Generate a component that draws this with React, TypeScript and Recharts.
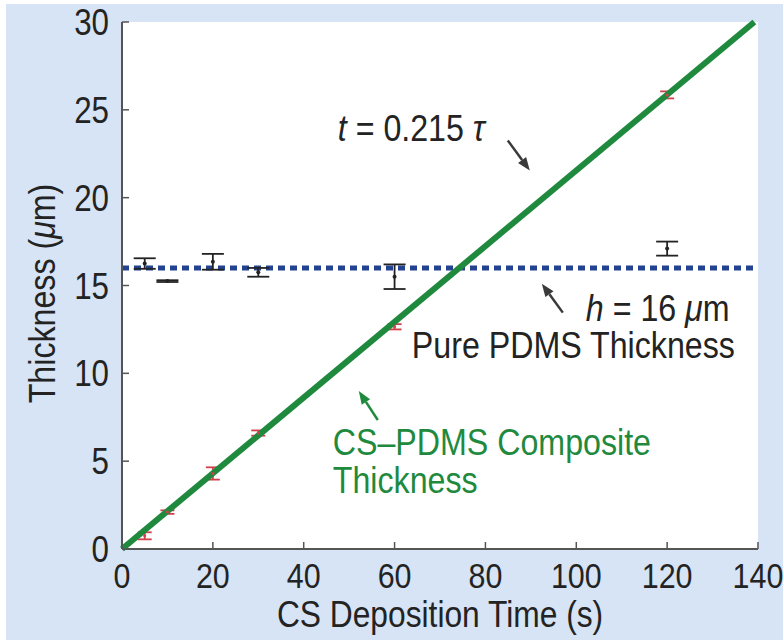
import React from "react";
import {
  ComposedChart,
  Scatter,
  ErrorBar,
  XAxis,
  YAxis,
  ReferenceLine,
  ReferenceDot,
  CartesianGrid,
} from "recharts";

// deposition times (s) where thickness was measured
const times = [5, 10, 20, 30, 60, 120];
// CS-PDMS composite thickness (um) and its error
const compositeThickness = [0.75, 2.1, 4.3, 6.6, 12.65, 25.85];
const compositeErr = [0.2, 0.1, 0.35, 0.15, 0.15, 0.2];
// pure PDMS thickness (um) and its error
const pdmsThickness = [16.25, 15.25, 16.35, 15.75, 15.5, 17.1];
const pdmsErr = [0.3, 0.05, 0.45, 0.25, 0.7, 0.4];
// fitted line t = 0.215 tau, end points
const fitTimes = [0, 139.2];
const fitThickness = [0, 30];
const pureLevel = 16;

const xTicks = [0, 20, 40, 60, 80, 100, 120, 140];
const yTicks = [0, 5, 10, 15, 20, 25, 30];

const compositeData = times.map((x, i) => ({ x, y: compositeThickness[i], err: compositeErr[i] }));
const pdmsData = times.map((x, i) => ({ x, y: pdmsThickness[i], err: pdmsErr[i] }));
const fitData = fitTimes.map((x, i) => ({ x, y: fitThickness[i] }));

const INK = "#232323";
const AXIS = "#555";
const GREEN = "#1f8a3e";
const NAVY = "#23428f";
const RED = "#d2404c";
const BG = "#d6e4f5";
const FONT = "'Liberation Sans', Arial, sans-serif";
const SX = 0.87;

function Txt({ x, y, size = 37, fill = INK, anchor = "start", rotate = false, children }: any) {
  const tf = rotate
    ? `translate(${x},${y}) rotate(-90) scale(${SX},1)`
    : `translate(${x},${y}) scale(${SX},1)`;
  return (
    <text transform={tf} fontSize={size} fill={fill} textAnchor={anchor} fontFamily={FONT}>
      {children}
    </text>
  );
}

function Arrow({ x1, y1, x2, y2, color = "#3a3a3a" }: any) {
  const a = Math.atan2(y2 - y1, x2 - x1);
  const len = 13;
  const w = 5;
  const bx = x2 - len * Math.cos(a);
  const by = y2 - len * Math.sin(a);
  const px = -Math.sin(a) * w;
  const py = Math.cos(a) * w;
  return (
    <g>
      <line x1={x1} y1={y1} x2={bx} y2={by} stroke={color} strokeWidth={2.5} />
      <polygon points={`${x2},${y2} ${bx + px},${by + py} ${bx - px},${by - py}`} fill={color} />
    </g>
  );
}

const BottomTick = ({ x, y, payload }: any) => (
  <g>
    <line x1={x} x2={x} y1={y} y2={y - 7} stroke={AXIS} strokeWidth={1.5} />
    <Txt x={x} y={y + 39} size={35} anchor="middle">{payload.value}</Txt>
  </g>
);

const TopTick = ({ x, y }: any) => (
  <line x1={x} x2={x} y1={y} y2={y + 7} stroke={AXIS} strokeWidth={1.5} />
);

const LeftTick = ({ x, y, payload }: any) => (
  <g>
    <line x1={x} x2={x + 7} y1={y} y2={y} stroke={AXIS} strokeWidth={1.5} />
    <Txt x={x - 13} y={y + 13} size={36} anchor="end">{payload.value}</Txt>
  </g>
);

const RightTick = ({ x, y }: any) => (
  <line x1={x} x2={x - 7} y1={y} y2={y} stroke={AXIS} strokeWidth={1.5} />
);

const Dot = (color: string, r: number) => (p: any) =>
  <circle cx={p.cx} cy={p.cy} r={r} fill={color} />;

export default function App() {
  return (
    <div style={{ position: "absolute", left: 0, top: 0, width: 783, height: 640, background: "#fff" }}>
      <div style={{ position: "absolute", left: 6, top: 4, right: 0, bottom: 0, background: BG }} />
      <div style={{ position: "absolute", left: 0, top: 0 }}>
        <ComposedChart width={783} height={640} margin={{ top: 22, right: 25, left: 0, bottom: 0 }}>
          <CartesianGrid fill="#fff" horizontal={false} vertical={false} />
          <XAxis
            dataKey="x"
            type="number"
            domain={[0, 140]}
            ticks={xTicks}
            interval={0}
            height={91}
            tickSize={0}
            tickMargin={0}
            tickLine={false}
            axisLine={{ stroke: AXIS, strokeWidth: 2 }}
            tick={<BottomTick />}
            label={{
              content: ({ viewBox }: any) => (
                <Txt x={viewBox.x + viewBox.width / 2} y={627} size={36.5} anchor="middle">CS Deposition Time (s)</Txt>
              ),
            }}
          />
          <XAxis
            xAxisId="top"
            orientation="top"
            dataKey="x"
            type="number"
            domain={[0, 140]}
            ticks={xTicks}
            interval={0}
            height={0}
            tickSize={0}
            tickMargin={0}
            tickLine={false}
            axisLine={{ stroke: AXIS, strokeWidth: 2 }}
            tick={<TopTick />}
          />
          <YAxis
            dataKey="y"
            type="number"
            domain={[0, 30]}
            ticks={yTicks}
            interval={0}
            width={122}
            tickSize={0}
            tickMargin={0}
            tickLine={false}
            axisLine={{ stroke: AXIS, strokeWidth: 2 }}
            tick={<LeftTick />}
            label={{
              content: ({ viewBox }: any) => (
                <Txt x={55} y={viewBox.y + viewBox.height / 2 + 8} anchor="middle" rotate>
                  Thickness (<tspan fontStyle="italic">μ</tspan>m)
                </Txt>
              ),
            }}
          />
          <YAxis
            yAxisId="right"
            orientation="right"
            dataKey="y"
            type="number"
            domain={[0, 30]}
            ticks={yTicks}
            interval={0}
            width={0}
            tickSize={0}
            tickMargin={0}
            tickLine={false}
            axisLine={{ stroke: AXIS, strokeWidth: 2 }}
            tick={<RightTick />}
          />

          <ReferenceLine y={pureLevel} stroke={NAVY} strokeWidth={5} strokeDasharray="7 5" />

          <Scatter
            data={fitData}
            isAnimationActive={false}
            line={{ stroke: GREEN, strokeWidth: 6 }}
            lineType="joint"
            shape={() => <g />}
          />

          <Scatter data={compositeData} isAnimationActive={false} shape={Dot(RED, 1.5)}>
            <ErrorBar dataKey="err" direction="y" width={7} stroke={RED} strokeWidth={1.8} />
          </Scatter>

          <Scatter data={pdmsData} isAnimationActive={false} shape={Dot(INK, 2)}>
            <ErrorBar dataKey="err" direction="y" width={11} stroke={INK} strokeWidth={1.8} />
          </Scatter>

          {/* t = 0.215 tau */}
          <ReferenceDot
            x={47.5}
            y={23.2}
            shape={(p: any) => (
              <g>
                <Txt x={p.cx} y={p.cy}>
                  <tspan fontStyle="italic">t</tspan> = 0.215 <tspan fontStyle="italic">τ</tspan>
                </Txt>
                <Arrow x1={p.cx + 170} y1={p.cy - 1} x2={p.cx + 192} y2={p.cy + 29} />
              </g>
            )}
          />

          {/* h = 16 um */}
          <ReferenceDot
            x={102.1}
            y={13.0}
            shape={(p: any) => (
              <g>
                <Txt x={p.cx} y={p.cy}>
                  <tspan fontStyle="italic">h</tspan> = 16 <tspan fontStyle="italic">μ</tspan>m
                </Txt>
                <Arrow x1={p.cx - 23} y1={p.cy - 8} x2={p.cx - 44} y2={p.cy - 37} />
              </g>
            )}
          />

          <ReferenceDot
            x={63.8}
            y={10.9}
            shape={(p: any) => <Txt x={p.cx} y={p.cy}>Pure PDMS Thickness</Txt>}
          />

          {/* composite label */}
          <ReferenceDot
            x={46.4}
            y={5.35}
            shape={(p: any) => (
              <g>
                <Txt x={p.cx} y={p.cy} fill={GREEN}>CS–PDMS Composite</Txt>
                <Txt x={p.cx} y={p.cy + 38} fill={GREEN}>Thickness</Txt>
                <Arrow x1={p.cx + 45} y1={p.cy - 35} x2={p.cx + 26} y2={p.cy - 64} color={GREEN} />
              </g>
            )}
          />
        </ComposedChart>
      </div>
    </div>
  );
}
